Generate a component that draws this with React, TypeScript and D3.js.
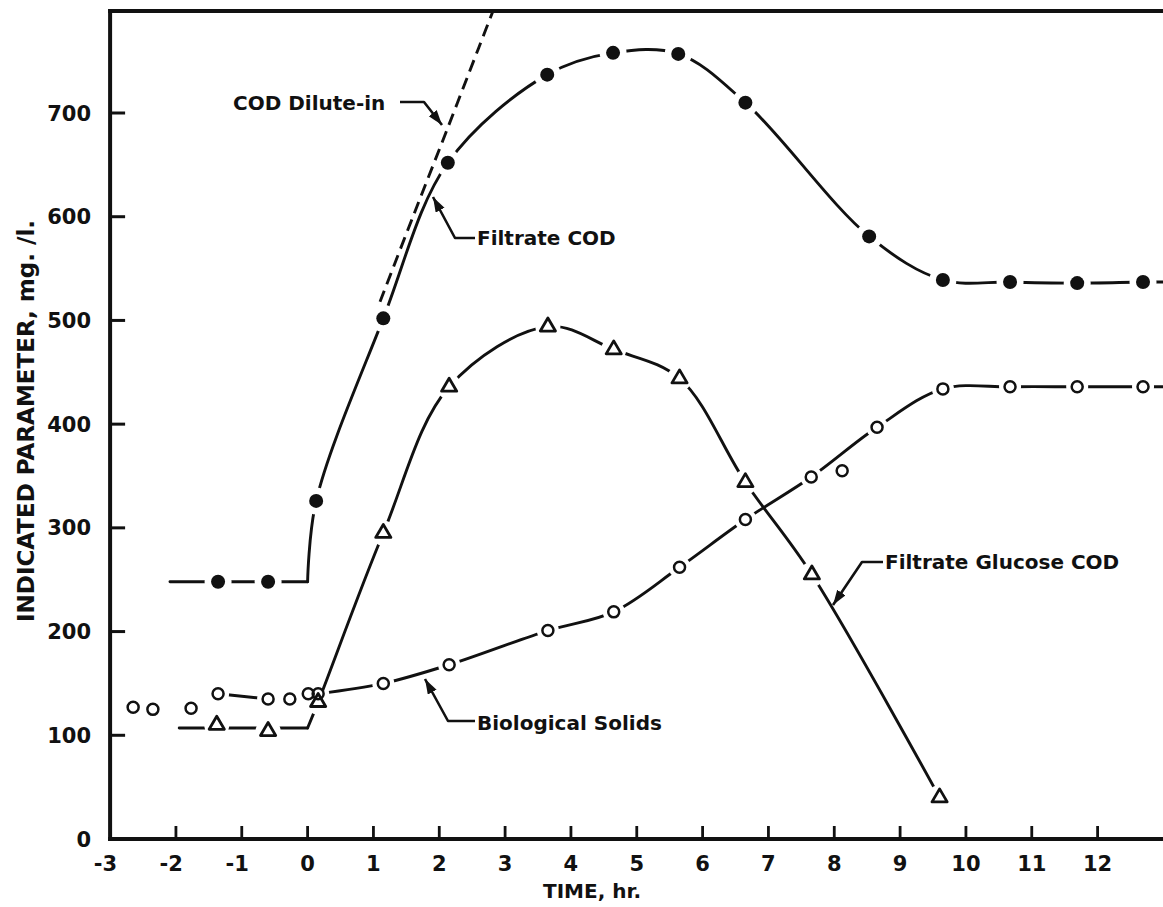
import React from "react";
import * as d3 from "d3";

const W = 1163;
const H = 907;

// Filtrate COD, mg/l (filled circles)
const codHours = [-1.36, -0.6, 0.13, 1.15, 2.13, 3.64, 4.64, 5.63, 6.65, 8.53, 9.65, 10.67, 11.69, 12.69];
const codValues = [248, 248, 326, 502, 652, 737, 758, 757, 710, 581, 539, 537, 536, 537];
const codLineStart = -2.09;

// Filtrate glucose COD, mg/l (triangles)
const glucoseHours = [-1.38, -0.6, 0.16, 1.15, 2.15, 3.65, 4.65, 5.65, 6.65, 7.66, 9.6];
const glucoseValues = [110, 104, 132, 295, 436, 494, 472, 444, 344, 255, 40];
const glucoseLineStart = -1.95;

// Biological solids, mg/l (open circles)
const solidsHours = [-2.65, -2.35, -1.77, -1.36, -0.6, -0.27, 0.01, 0.16, 1.15, 2.15, 3.65, 4.65, 5.65, 6.65, 7.65, 8.12, 8.65, 9.65, 10.67, 11.69, 12.69];
const solidsValues = [127, 125, 126, 140, 135, 135, 140, 140, 150, 168, 201, 219, 262, 308, 349, 355, 397, 434, 436, 436, 436];
// readings left off the faired curve
const solidsUnjoined = [-2.65, -2.35, -1.77, 8.12];

// COD dilute-in (computed wash-in of feed COD, dashed)
const diluteHours = [1.1, 1.6, 2.1, 2.6, 2.9];
const diluteValues = [518, 600, 681, 763, 812];

const hourTicks = [-3, -2, -1, 0, 1, 2, 3, 4, 5, 6, 7, 8, 9, 10, 11, 12];
const paramTicks = [0, 100, 200, 300, 400, 500, 600, 700];

type Pt = [number, number];
const pairs = (h: number[], v: number[]): Pt[] => h.map((t, i) => [t, v[i]] as Pt);

const FONT = "'DejaVu Sans', 'Open Sans', sans-serif";
const INK = "#111";

export default function App() {
  const x = d3.scaleLinear().domain([0, 12]).range([307.6, 1097.6]);
  const y = d3.scaleLinear().domain([0, 700]).range([839, 113]);
  const left = x(-3);
  const right = x(13);
  const top = 11;
  const bottom = y(0);

  const straight = d3.line<Pt>().x((d) => x(d[0])).y((d) => y(d[1]));
  const smooth = d3
    .line<Pt>()
    .x((d) => x(d[0]))
    .y((d) => y(d[1]))
    .curve(d3.curveCatmullRom.alpha(0.5));

  // Filtrate COD: flat pre-feed level, then the faired response
  const cod = pairs(codHours, codValues);
  const codBase = d3.mean(cod.filter((d) => d[0] < 0), (d) => d[1]) as number;
  const codPost = cod.filter((d) => d[0] >= 0);
  const codFlat = straight([[codLineStart, codBase], [0, codBase]]);
  const codCurve = smooth([[0, codBase], ...codPost, [13, codPost[codPost.length - 1][1]]]);

  // Glucose COD
  const glu = pairs(glucoseHours, glucoseValues);
  const gluBase = d3.mean(glu.filter((d) => d[0] < 0), (d) => d[1]) as number;
  const gluPost = glu.filter((d) => d[0] >= 0);
  const gluFlat = straight([[glucoseLineStart, gluBase], [0, gluBase]]);
  const gluCurve = smooth([[0, gluBase], ...gluPost]);

  // Biological solids
  const sol = pairs(solidsHours, solidsValues);
  const solJoined = sol.filter((d) => !solidsUnjoined.includes(d[0]));
  const solPre = solJoined.filter((d) => d[0] < 0.1);
  const solPost = solJoined.filter((d) => d[0] >= 0.1);
  const solFlat = straight([...solPre, solPost[0]]);
  const solCurve = smooth([...solPost, [13, solPost[solPost.length - 1][1]]]);

  const dilute = smooth(pairs(diluteHours, diluteValues));

  const tri = "M0,-8.6 L7.6,4.4 L-7.6,4.4 Z";

  // each line is broken around its own markers
  const gapMask = (id: string, pts: Pt[], r: number) => (
    <mask id={id} maskUnits="userSpaceOnUse" x={0} y={0} width={W} height={H}>
      <rect x={0} y={0} width={W} height={H} fill="white" />
      {pts.map((d, i) => (
        <circle key={i} cx={x(d[0])} cy={y(d[1])} r={r} fill="black" />
      ))}
    </mask>
  );

  const lineStyle = {
    fill: "none",
    stroke: INK,
    strokeWidth: 2.9,
    strokeLinecap: "round" as const,
    strokeLinejoin: "round" as const,
  };

  const labelStyle = { fontFamily: FONT, fontWeight: 700, fill: INK } as const;

  return (
    <svg
      width={W}
      height={H}
      viewBox={`0 0 ${W} ${H}`}
      style={{ position: "absolute", left: 0, top: 0, background: "#fff" }}
    >
      <defs>
        <clipPath id="plot">
          <rect x={left} y={top} width={right - left} height={bottom - top} />
        </clipPath>
        {gapMask("gap-cod", cod, 13.5)}
        {gapMask("gap-glu", glu, 12.5)}
        {gapMask("gap-sol", sol, 11)}
        <marker
          id="arrow"
          markerUnits="userSpaceOnUse"
          markerWidth={16}
          markerHeight={12}
          refX={15}
          refY={5}
          orient="auto"
        >
          <path d="M0,0 L15,5 L0,10 Z" fill={INK} />
        </marker>
      </defs>

      <rect x={0} y={0} width={W} height={H} fill="#fff" />

      <g clipPath="url(#plot)">
        {/* COD dilute-in */}
        <path d={dilute ?? ""} {...lineStyle} strokeLinecap="butt" strokeDasharray="12 7" />

        <g mask="url(#gap-cod)">
          <path d={codFlat ?? ""} {...lineStyle} />
          <path d={codCurve ?? ""} {...lineStyle} />
        </g>
        <g mask="url(#gap-glu)">
          <path d={gluFlat ?? ""} {...lineStyle} />
          <path d={gluCurve ?? ""} {...lineStyle} />
        </g>
        <g mask="url(#gap-sol)">
          <path d={solFlat ?? ""} {...lineStyle} />
          <path d={solCurve ?? ""} {...lineStyle} />
        </g>

        {sol.map((d, i) => (
          <circle
            key={`s${i}`}
            cx={x(d[0])}
            cy={y(d[1])}
            r={5.5}
            fill="none"
            stroke={INK}
            strokeWidth={2.5}
          />
        ))}
        {glu.map((d, i) => (
          <path
            key={`g${i}`}
            d={tri}
            transform={`translate(${x(d[0])},${y(d[1])})`}
            fill="none"
            stroke={INK}
            strokeWidth={2.8}
            strokeLinejoin="round"
          />
        ))}
        {cod.map((d, i) => (
          <circle key={`c${i}`} cx={x(d[0])} cy={y(d[1])} r={7} fill={INK} />
        ))}
      </g>

      {/* frame */}
      <line x1={left} x2={left} y1={top - 2} y2={bottom + 2} stroke={INK} strokeWidth={4} />
      <line x1={left - 2} x2={right} y1={top} y2={top} stroke={INK} strokeWidth={4} />
      <line x1={left - 2} x2={right} y1={bottom} y2={bottom} stroke={INK} strokeWidth={4} />

      {/* y ticks */}
      {paramTicks.map((v) => (
        <g key={`yt${v}`}>
          {v > 0 && (
            <line x1={left} x2={left + 15} y1={y(v)} y2={y(v)} stroke={INK} strokeWidth={3} />
          )}
          <text x={91} y={y(v)} dy="0.36em" textAnchor="end" fontSize={21} {...labelStyle}>
            {v}
          </text>
        </g>
      ))}

      {/* x ticks */}
      {hourTicks.map((h) => (
        <g key={`xt${h}`}>
          {h > -3 && (
            <line x1={x(h)} x2={x(h)} y1={bottom} y2={bottom - 13} stroke={INK} strokeWidth={2.8} />
          )}
          {h < 0 ? (
            <text x={x(h) + 7} y={871} textAnchor="end" fontSize={21} {...labelStyle}>
              {`-${Math.abs(h)}`}
            </text>
          ) : (
            <text x={x(h)} y={871} textAnchor="middle" fontSize={21} {...labelStyle}>
              {h}
            </text>
          )}
        </g>
      ))}

      {/* axis titles */}
      <text x={543} y={898} fontSize={20} {...labelStyle}>
        TIME, hr.
      </text>
      <text
        transform="translate(26,421) rotate(-90)"
        dy="0.36em"
        textAnchor="middle"
        fontSize={23}
        {...labelStyle}
      >
        INDICATED PARAMETER, mg. /l.
      </text>

      {/* curve call-outs */}
      <g fill="none" stroke={INK} strokeWidth={2.6} strokeLinejoin="round">
        <path d="M400,102 L424,102 L442,125" markerEnd="url(#arrow)" />
        <path d="M475,238 L455,238 L433,197" markerEnd="url(#arrow)" />
        <path d="M883,562 L862,562 L833,605" markerEnd="url(#arrow)" />
        <path d="M475,721 L448,721 L425,679" markerEnd="url(#arrow)" />
      </g>
      <text x={233} y={110} fontSize={20} {...labelStyle}>
        COD Dilute-in
      </text>
      <text x={477} y={245} fontSize={20} {...labelStyle}>
        Filtrate COD
      </text>
      <text x={885} y={569} fontSize={20} {...labelStyle}>
        Filtrate Glucose COD
      </text>
      <text x={477} y={730} fontSize={20} {...labelStyle}>
        Biological Solids
      </text>
    </svg>
  );
}
